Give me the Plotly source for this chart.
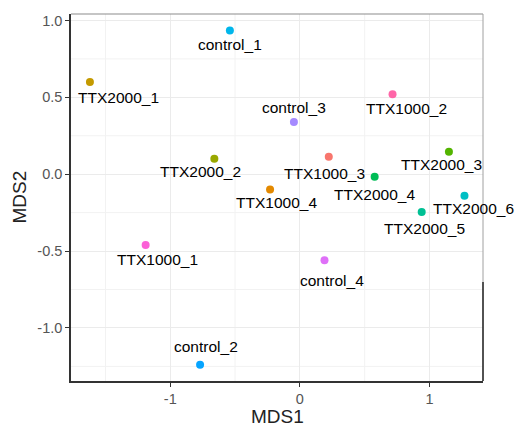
import plotly.graph_objects as go

samples = ["control_1", "TTX2000_1", "TTX2000_2", "control_3", "TTX1000_2", "TTX1000_3",
           "TTX2000_3", "TTX2000_4", "TTX1000_4", "TTX2000_6", "TTX2000_5", "TTX1000_1",
           "control_4", "control_2"]
mds1 = [-0.54, -1.62, -0.66, -0.046, 0.715, 0.223, 1.15, 0.577, -0.23, 1.27, 0.94, -1.19, 0.19, -0.77]
mds2 = [0.935, 0.60, 0.10, 0.34, 0.52, 0.114, 0.146, -0.016, -0.10, -0.14, -0.245, -0.46, -0.56, -1.24]
colors = ["#00B6EB", "#C49A00", "#99A800", "#A58AFF", "#FF66A8", "#F8766D",
          "#53B400", "#00BC56", "#E38900", "#00BFC4", "#00C094", "#FB61D7",
          "#DF70F8", "#06A4FF"]
# label offsets in pixels (dx, dy with dy positive = down)
label_dx = [0, 29, -14, 0, 14, -4, -7, 0, 6, 9, 3, 12, 7, 6]
label_dy = [14, 16, 13, -14, 14, 17, 13, 18, 13, 13, 17, 15, 20, -18]

x_major = [-1, 0, 1]
y_major = [-1.0, -0.5, 0.0, 0.5, 1.0]
x_minor = [-1.5, -0.5, 0.5]
y_minor = [-1.25, -0.75, -0.25, 0.25, 0.75]
x_title = "MDS1"
y_title = "MDS2"

font = "Liberation Sans, Arial, sans-serif"

fig = go.Figure()
fig.add_trace(go.Scatter(x=mds1, y=mds2, mode="markers",
                         marker=dict(color=colors, size=8, line=dict(width=0)),
                         hoverinfo="text", text=samples, showlegend=False,
                         cliponaxis=False))

for s, x, y, dx, dy in zip(samples, mds1, mds2, label_dx, label_dy):
    fig.add_annotation(x=x, y=y, text=s, showarrow=False, xshift=dx, yshift=-dy,
                       font=dict(family=font, size=15.5, color="black"))

fig.add_annotation(xref="paper", yref="paper", x=0.5, y=0, yshift=-35, yanchor="middle",
                   text=x_title, showarrow=False, borderpad=0,
                   font=dict(family=font, size=19, color="#222222"))
fig.add_annotation(xref="paper", yref="paper", x=0, y=0.5, xshift=-52, xanchor="center",
                   text=y_title, showarrow=False, textangle=-90, borderpad=0,
                   font=dict(family=font, size=19, color="#222222"))

shapes = []
for v in x_minor:
    shapes.append(dict(type="line", xref="x", yref="paper", x0=v, x1=v, y0=0, y1=1,
                       line=dict(color="#F2F2F2", width=1), layer="below"))
for v in y_minor:
    shapes.append(dict(type="line", xref="paper", yref="y", x0=0, x1=1, y0=v, y1=v,
                       line=dict(color="#F2F2F2", width=1), layer="below"))
# top and right light border
shapes.append(dict(type="line", xref="paper", yref="paper", x0=0, x1=1, y0=1, y1=1,
                   line=dict(color="#8C8C8C", width=1.2)))
shapes.append(dict(type="line", xref="paper", yref="paper", x0=1, x1=1, y0=0, y1=1,
                   line=dict(color="#A0A0A0", width=1)))
shapes.append(dict(type="line", xref="paper", yref="paper", x0=1, x1=1, y0=0, y1=0.27,
                   line=dict(color="#333333", width=1.6)))

fig.update_layout(
    width=515, height=426,
    margin=dict(l=71, r=32, t=14, b=45),
    plot_bgcolor="white", paper_bgcolor="white",
    font=dict(family=font),
    shapes=shapes,
    xaxis=dict(range=[-1.766, 1.413], tickvals=x_major, ticktext=["-1", "0", "1"],
               automargin=False,
               showgrid=True, gridcolor="#EBEBEB", gridwidth=1.3, zeroline=False,
               showline=True, linecolor="#333333", linewidth=1.6, mirror=False,
               ticks="outside", ticklen=4, tickwidth=1.4, tickcolor="#333333",
               tickfont=dict(size=14.5, color="#555555", family=font)),
    yaxis=dict(range=[-1.345, 1.042], tickvals=y_major, ticktext=["-1.0", "-0.5", "0.0", "0.5", "1.0"],
               automargin=False,
               showgrid=True, gridcolor="#EBEBEB", gridwidth=1.3, zeroline=False,
               showline=True, linecolor="#333333", linewidth=1.6, mirror=False,
               ticks="outside", ticklen=4, tickwidth=1.4, tickcolor="#333333",
               tickfont=dict(size=14.5, color="#555555", family=font)),
)

fig.write_html("out.html", config={"displayModeBar": False},
               post_script="document.body.style.margin='0';document.body.style.overflow='hidden';")
